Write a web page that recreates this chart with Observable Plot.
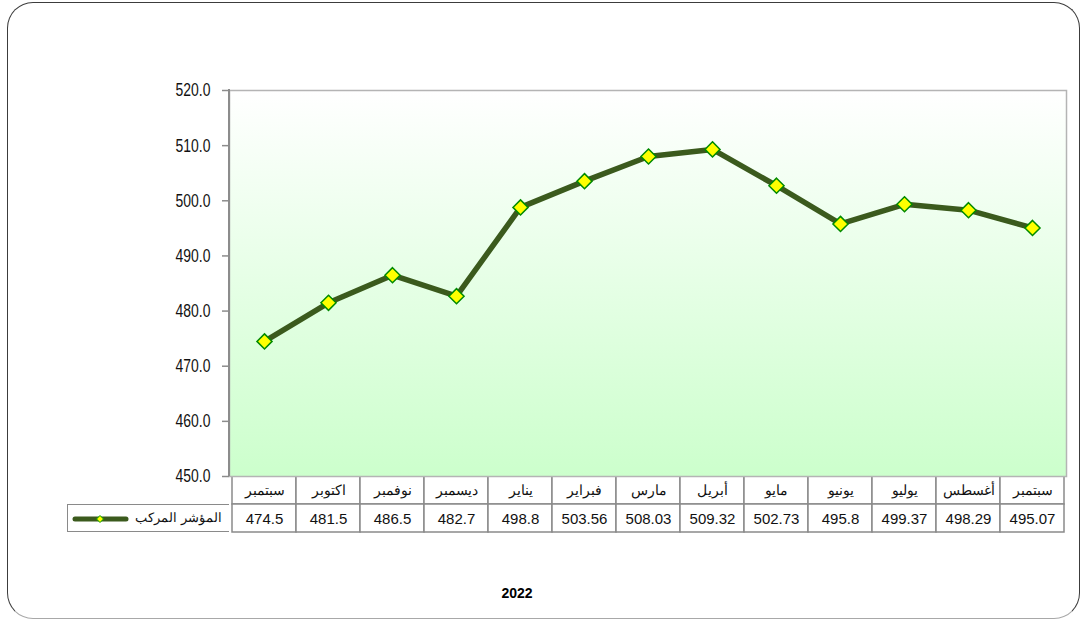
<!DOCTYPE html>
<html>
<head>
<meta charset="utf-8">
<script src="https://cdn.jsdelivr.net/npm/d3@7"></script>
<script src="https://cdn.jsdelivr.net/npm/@observablehq/plot@0.6"></script>
<style>
  html, body { margin: 0; padding: 0; background: #fff; }
  #wrap { position: relative; width: 1084px; height: 621px; overflow: hidden; font-family: "Liberation Sans", Arial, sans-serif; }
  #border { position: absolute; left: 7px; top: 2px; width: 1071px; height: 615px; border: 1px solid #3c3c3c; border-bottom-color: #a8a8a8; border-radius: 26px; box-sizing: content-box; }
  #chart { position: absolute; left: 0; top: 0; }
  #chart svg { overflow: visible; }
  #table { position: absolute; left: 0; top: 475px; }
  #legend { position: absolute; left: 67px; top: 504px; width: 162px; height: 28px; box-sizing: border-box; border: 1px solid #8a8a8a; border-right: none; }
  #legend svg { position: absolute; left: 3px; top: 7px; }
  #legend span { position: absolute; right: 7px; top: 5px; font-size: 13px; direction: rtl; white-space: nowrap; color: #111; font-family: "Liberation Sans", Arial, sans-serif; }
  #year { position: absolute; left: 0; width: 1034px; top: 585px; text-align: center; font-weight: bold; font-size: 14px; }
</style>
</head>
<body>
<div id="wrap">
  <div id="border"></div>
  <div id="table"></div>
  <div id="chart"></div>
  <div id="legend"></div>
  <div id="year"></div>
</div>
<script>
// ---- data ----
const months = ["سبتمبر", "اكتوبر", "نوفمبر", "ديسمبر", "يناير", "فبراير", "مارس", "أبريل", "مايو", "يونيو", "يوليو", "أغسطس", "سبتمبر"];
const values = [474.5, 481.5, 486.5, 482.7, 498.8, 503.56, 508.03, 509.32, 502.73, 495.8, 499.37, 498.29, 495.07];
const valueLabels = ["474.5", "481.5", "486.5", "482.7", "498.8", "503.56", "508.03", "509.32", "502.73", "495.8", "499.37", "498.29", "495.07"];
const yTicks = [450, 460, 470, 480, 490, 500, 510, 520];
const seriesName = "المؤشر المركب";
const yearLabel = "2022";

const idx = d3.range(months.length);
const points = idx.map(i => ({i, v: values[i]}));

const lineColor = "#3b5a1d";

const chart = Plot.plot({
  width: 1084,
  height: 500,
  marginLeft: 229,
  marginRight: 18,
  marginTop: 90,
  marginBottom: 24,
  x: {type: "band", domain: idx, padding: 0, axis: null},
  y: {domain: [450, 520], axis: null},
  marks: [
    Plot.frame({fill: "url(#bgGrad)", stroke: "#b4b4b4", strokeWidth: 1.5}),
    Plot.axisY({ticks: yTicks, tickSize: 7, tickPadding: 12, tickFormat: d => d.toFixed(1), label: null,
      stroke: "#8c8c8c", strokeWidth: 1.5, fill: "#111", fontSize: 17, fontFamily: "'Liberation Sans', Arial, sans-serif"}),
    Plot.line(points, {x: "i", y: "v", stroke: lineColor, strokeWidth: 5.5, strokeLinejoin: "round"}),
    Plot.dot(points, {x: "i", y: "v", symbol: "diamond2", r: 6.8, fill: "#ffff00", stroke: "#008a00", strokeWidth: 1.5})
  ]
});
const svg = d3.select(chart);
// gradient defs
const defs = svg.insert("defs", ":first-child");
const grad = defs.append("linearGradient").attr("id", "bgGrad").attr("x1", 0).attr("y1", 0).attr("x2", 0).attr("y2", 1);
grad.append("stop").attr("offset", "0%").attr("stop-color", "#ffffff");
grad.append("stop").attr("offset", "100%").attr("stop-color", "#ccffcc");
// condensed look for tick labels (narrow, tall like the original)
svg.selectAll("g[aria-label='y-axis tick label'] text").each(function() {
  const t = d3.select(this);
  const tr = t.attr("transform") || "";
  t.attr("transform", tr + " scale(0.82,1.1)");
});
// left axis line
svg.append("line").attr("x1", 229).attr("x2", 229).attr("y1", 89).attr("y2", 476).attr("stroke", "#8c8c8c").attr("stroke-width", 2);
document.getElementById("chart").appendChild(chart);

// ---- data table ----
const cells = [];
idx.forEach(i => {
  cells.push({i, row: "m", text: months[i]});
  cells.push({i, row: "v", text: valueLabels[i]});
});
const table = Plot.plot({
  width: 1084,
  height: 58,
  marginLeft: 229,
  marginRight: 18,
  marginTop: 1,
  marginBottom: 1,
  x: {type: "band", domain: idx, padding: 0, axis: null},
  y: {type: "band", domain: ["m", "v"], padding: 0, axis: null},
  marks: [
    Plot.cell(cells, {x: "i", y: "row", fill: "white", stroke: "#8a8a8a", strokeWidth: 1.5, inset: 0}),
    Plot.text(cells.filter(d => d.row === "m"), {x: "i", y: "row", text: "text", fontSize: 13.5, fill: "#111", dy: 0, fontFamily: "'Liberation Sans', Arial, sans-serif"}),
    Plot.text(cells.filter(d => d.row === "v"), {x: "i", y: "row", text: "text", fontSize: 15, fill: "#111", dy: 1, fontFamily: "'Liberation Sans', Arial, sans-serif"})
  ]
});
document.getElementById("table").appendChild(table);

// ---- legend cell ----
const leg = document.getElementById("legend");
leg.innerHTML = `<svg width="60" height="14"><line x1="4" x2="55" y1="7" y2="7" stroke="${lineColor}" stroke-width="5" stroke-linecap="round"/><path d="M29,3.5 L32.5,7 L29,10.5 L25.5,7 Z" fill="#ffff00" stroke="#00a000" stroke-width="1"/></svg><span></span>`;
leg.querySelector("span").textContent = seriesName;
document.getElementById("year").textContent = yearLabel;
</script>
</body>
</html>
